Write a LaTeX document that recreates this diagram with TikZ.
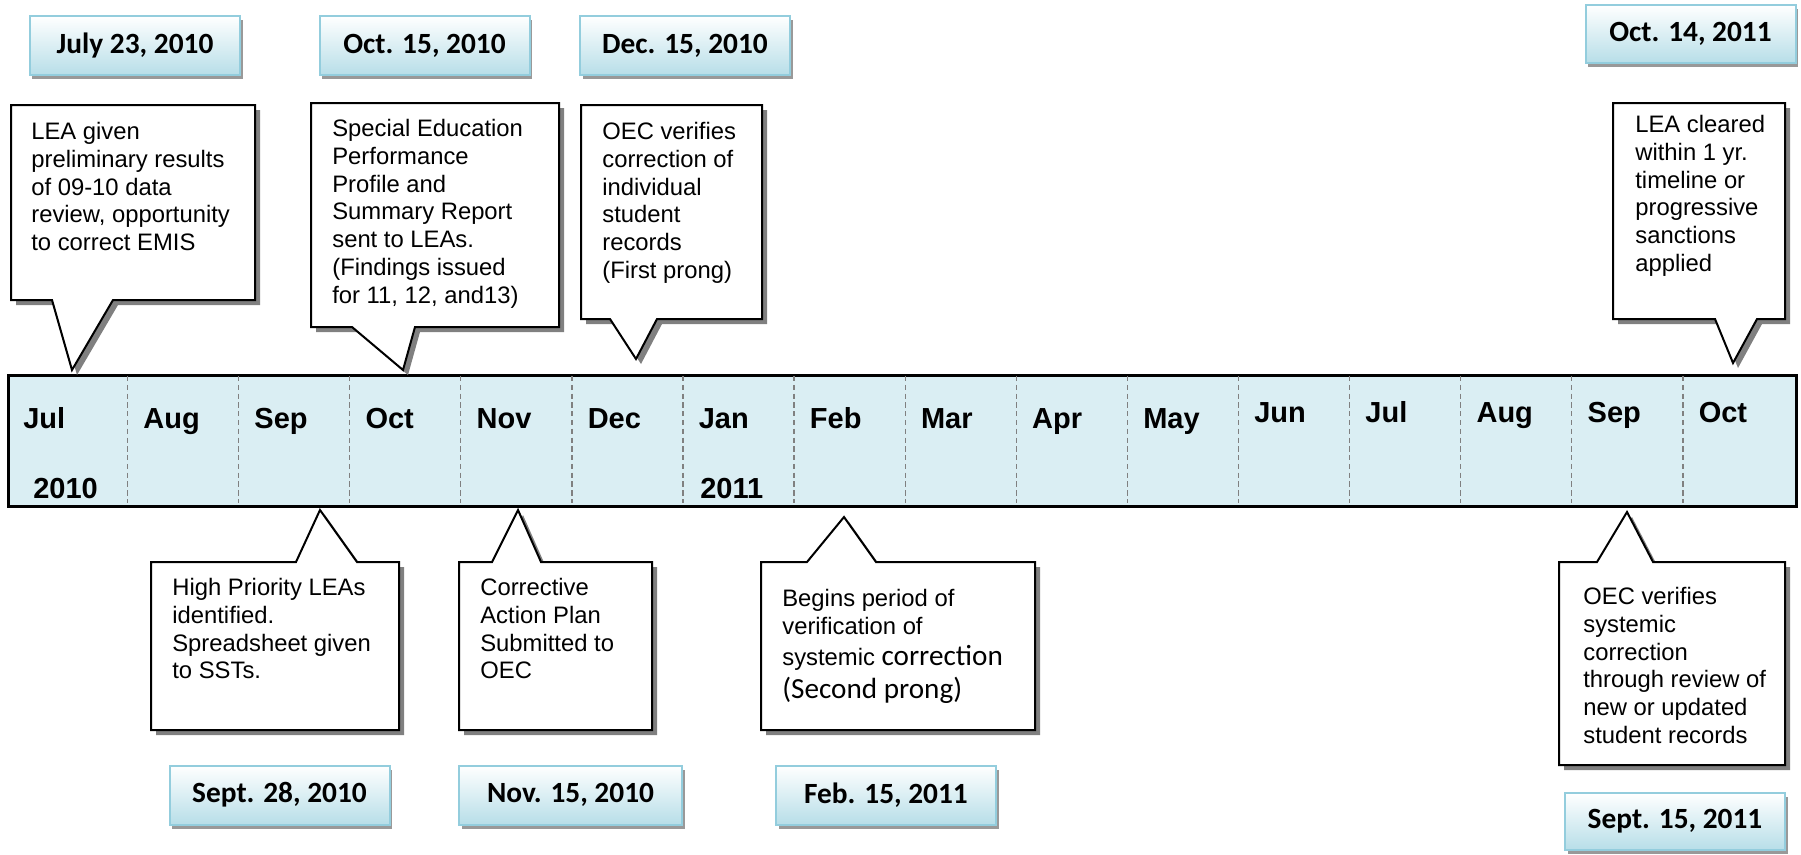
\documentclass[tikz,border=0pt]{standalone}
\usepackage{fontspec}
\setmainfont{Liberation Sans}
\newfontfamily\carlito{Carlito}
\usepackage{xcolor}
\usetikzlibrary{shadows}

\definecolor{barblue}{RGB}{218,238,243}
\definecolor{dateedge}{RGB}{147,205,221}
\definecolor{datefill}{RGB}{183,222,232}

\begin{document}
\begin{tikzpicture}[x=0.2mm, y=-0.2mm,
  datebox/.style={draw=dateedge, line width=0.4mm, top color=white, bottom color=datefill,
    minimum width=42mm, minimum height=11.8mm, inner sep=0pt,
    font=\carlito\bfseries\fontsize{16.7}{20}\selectfont,
    drop shadow={shadow xshift=0.5mm, shadow yshift=-0.8mm, fill=black!40, opacity=1}},
  callbox/.style={draw=black, line width=0.4mm, fill=white, line join=miter,
    drop shadow={shadow xshift=1mm, shadow yshift=-1mm, fill=black!50, opacity=1}},
  note/.style={anchor=north west, inner sep=0pt, align=left,
    font=\fontsize{13.55}{15.8}\selectfont},
  month/.style={anchor=base west, inner sep=0pt, font=\fontsize{16.5}{18}\selectfont\bfseries},
  divider/.style={densely dashed, gray, line width=0.25mm}
]
  \useasboundingbox (0,0) rectangle (1801,854);

  % timeline bar
  \node[draw, line width=0.5mm, fill=barblue, anchor=north west, inner sep=0pt,
    minimum width=357.6mm, minimum height=26.2mm] (bar) at (7,374) {};
  \foreach \k in {0,...,14}
    \draw[divider] ({127.5+111.1*\k},376) -- ({127.5+111.1*\k},503);

  \node[month] (m0) at (23,428) {Jul};
  \foreach \m [count=\i] in {Aug,Sep,Oct,Nov,Dec,Jan,Feb,Mar,Apr,May}
    \node[month] (m\i) at ({143+111.1*(\i-1)},428) {\m};
  \foreach \m [count=\i from 11] in {Jun,Jul,Aug,Sep,Oct}
    \node[month] (m\i) at ({143+111.1*(\i-1)},422) {\m};
  \node[month] (y10) at (33,498) {2010};
  \node[month] (y11) at (700,498) {2011};

  % dates
  \node[datebox] (d1) at (135,45.5) {July 23, 2010};
  \node[datebox] (d2) at (424.5,45.5) {Oct. 15, 2010};
  \node[datebox] (d3) at (685,45.5) {Dec. 15, 2010};
  \node[datebox, minimum height=11.6mm] (d4) at (1690.5,34) {Oct. 14, 2011};
  \node[datebox, minimum width=44mm] (d5) at (279.5,795) {Sept. 28, 2010};
  \node[datebox, minimum width=44.6mm] (d6) at (570.5,795) {Nov. 15, 2010};
  \node[datebox, minimum width=44mm] (d7) at (886,795) {Feb. 15, 2011};
  \node[datebox, minimum width=44mm, minimum height=11.4mm] (d8) at (1675,821.5) {Sept. 15, 2011};

  % callouts above the bar
  \draw[callbox] (11,105) -- (255,105) -- (255,300) -- (113,300) -- (72,370) -- (52,300) -- (11,300) -- cycle;
  \node[note] (t1) at (31,122) {LEA given\\preliminary results\\of 09-10 data\\review, opportunity\\to correct EMIS};

  \draw[callbox] (311,103) -- (559,103) -- (559,327) -- (415,327) -- (403,370) -- (352,327) -- (311,327) -- cycle;
  \node[note] (t2) at (332,119) {Special Education\\Performance\\Profile and\\Summary Report\\sent to LEAs.\\(Findings issued\\for 11, 12, and13)};

  \draw[callbox] (581,105) -- (762,105) -- (762,319) -- (657,319) -- (636,359) -- (610,319) -- (581,319) -- cycle;
  \node[note] (t3) at (602,122) {OEC verifies\\correction of\\individual\\student\\records\\(First prong)};

  \draw[callbox] (1613,103) -- (1785,103) -- (1785,319) -- (1757,319) -- (1733,363) -- (1715,319) -- (1613,319) -- cycle;
  \node[note] (t7) at (1635,115) {LEA cleared\\within 1 yr.\\timeline or\\progressive\\sanctions\\applied};

  % callouts below the bar
  \draw[callbox] (151,562) -- (296,562) -- (320,510) -- (357,562) -- (399,562) -- (399,730) -- (151,730) -- cycle;
  \node[note] (t4) at (172,578) {High Priority LEAs\\identified.\\Spreadsheet given\\to SSTs.};

  \draw[callbox] (459,562) -- (492,562) -- (518,510) -- (541,562) -- (652,562) -- (652,730) -- (459,730) -- cycle;
  \node[note] (t5) at (480,578) {Corrective\\Action Plan\\Submitted to\\OEC};

  \draw[callbox] (761,562) -- (807,562) -- (844,517) -- (876,562) -- (1035,562) -- (1035,730) -- (761,730) -- cycle;
  \node[note] (t6) at (782,589) {Begins period of\\verification of\\[2pt]systemic {\carlito\fontsize{16.6}{18}\selectfont correction}\\[3pt]{\carlito\fontsize{16.6}{18}\selectfont (Second prong)}};

  \draw[callbox] (1559,562) -- (1597,562) -- (1627,512) -- (1653,562) -- (1785,562) -- (1785,765) -- (1559,765) -- cycle;
  \node[note] (t8) at (1583,587) {OEC verifies\\systemic\\correction\\through review of\\new or updated\\student records};
\end{tikzpicture}
\end{document}
